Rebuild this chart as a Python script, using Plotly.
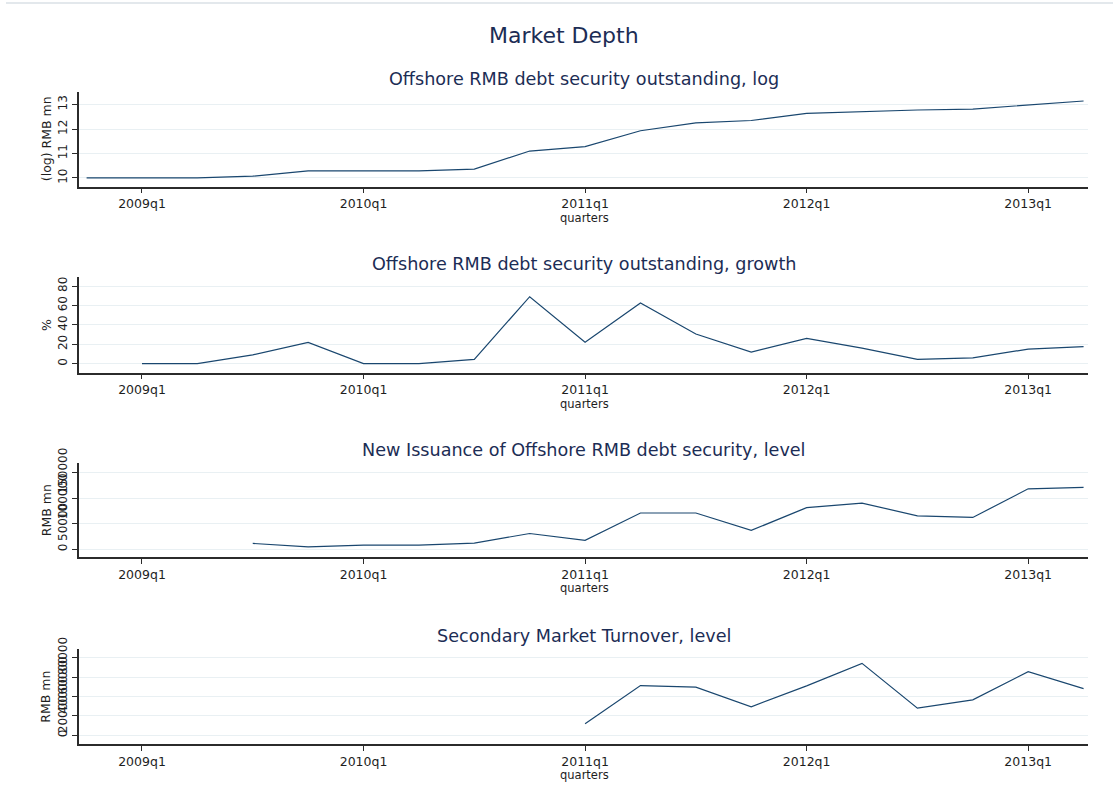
import plotly.graph_objects as go

quarters = ["2008q4", "2009q1", "2009q2", "2009q3", "2009q4", "2010q1", "2010q2",
            "2010q3", "2010q4", "2011q1", "2011q2", "2011q3", "2011q4", "2012q1",
            "2012q2", "2012q3", "2012q4", "2013q1", "2013q2"]

log_outstanding = [10.0, 10.0, 10.0, 10.07, 10.29, 10.29, 10.29, 10.36, 11.1, 11.28,
                   11.93, 12.25, 12.35, 12.64, 12.72, 12.78, 12.82, 13.0, 13.15]

growth_outstanding = [None, 0, 0, 9, 22, 0, 0, 4.5, 69, 22, 62.5, 30.5, 12, 26,
                      16, 4.5, 6, 15, 17.5]

new_issuance = [None, None, None, 11300, 4700, 8000, 8000, 12000, 30700, 17300,
                70700, 70700, 36700, 81300, 90000, 65300, 62000, 118000, 120700]

turnover = [None, None, None, None, None, None, None, None, None, 12000,
            51300, 49600, 29400, 51000, 74200, 28000, 36600, 65600, 48200]

x_tickvals = ["2009q1", "2010q1", "2011q1", "2012q1", "2013q1"]

main_title = "Market Depth"
panel_titles = ["Offshore RMB debt security outstanding, log",
                "Offshore RMB debt security outstanding, growth",
                "New Issuance of Offshore RMB debt security, level",
                "Secondary Market Turnover, level"]
y_titles = ["(log) RMB mn", "%", "RMB mn", "RMB mn"]
y_tickvals = [[10, 11, 12, 13], [0, 20, 40, 60, 80],
              [0, 50000, 100000, 150000], [0, 20000, 40000, 60000, 80000]]
y_ranges = [[9.64, 13.53], [-9.3, 89], [-15800, 167800], [-9000, 88700]]
series = [log_outstanding, growth_outstanding, new_issuance, turnover]

W, H = 1113, 809
# pixel geometry of each panel (top, bottom)
panel_px = [(91.7, 186.7), (277.3, 372.7), (463.3, 557.3), (649.3, 744.0)]
x_left, x_right = 79, 1088

line_color = "#1a476f"
text_color = "#1c2d55"
axis_color = "#2b2b2b"
grid_color = "#e9f0f3"
font_family = "DejaVu Sans, Liberation Sans, sans-serif"

fig = go.Figure()
annotations = []
for i in range(4):
    ax = "" if i == 0 else str(i + 1)
    fig.add_trace(go.Scatter(
        x=quarters, y=series[i], mode="lines",
        line=dict(color=line_color, width=1.2),
        xaxis="x" + ax, yaxis="y" + ax, showlegend=False, connectgaps=False))
    top, bot = panel_px[i]
    fig.layout["xaxis" + ax] = dict(
        type="category", categoryorder="array", categoryarray=quarters,
        domain=[x_left / W, x_right / W], anchor="y" + ax, automargin=False,
        range=[-0.137, 18.08], tickmode="array", tickvals=x_tickvals,
        ticktext=x_tickvals, showline=True, linecolor=axis_color, linewidth=1.5,
        ticks="outside", ticklen=5, tickcolor=axis_color, showgrid=False,
        zeroline=False, tickfont=dict(size=12.5, color="#1e1e1e", family=font_family))
    fig.layout["yaxis" + ax] = dict(
        domain=[1 - bot / H, 1 - top / H], anchor="x" + ax, automargin=False,
        range=y_ranges[i], tickmode="array", tickvals=y_tickvals[i],
        ticktext=[str(v) for v in y_tickvals[i]], tickangle=-90,
        showline=True, linecolor=axis_color, linewidth=1.5,
        ticks="outside", ticklen=5, tickcolor=axis_color,
        showgrid=True, gridcolor=grid_color, gridwidth=1.2, zeroline=False,
        tickfont=dict(size=12, color="#1e1e1e", family=font_family))
    annotations.append(dict(
        text=panel_titles[i], x=(x_left + x_right) / 2 / W, y=1 - (top - 13) / H,
        xref="paper", yref="paper", showarrow=False, xanchor="center", yanchor="middle",
        font=dict(size=17.6, color=text_color, family=font_family)))
    annotations.append(dict(
        text="quarters", x=585 / W, y=1 - (bot + 31) / H,
        xref="paper", yref="paper", showarrow=False, xanchor="center", yanchor="middle",
        font=dict(size=11.5, color="#1e1e1e", family=font_family)))
    annotations.append(dict(
        text=y_titles[i], x=46 / W, y=1 - (top + bot) / 2 / H, textangle=-90,
        xref="paper", yref="paper", showarrow=False, xanchor="center", yanchor="middle",
        font=dict(size=12.5, color="#1e1e1e", family=font_family)))

annotations.append(dict(
    text=main_title, x=564 / W, y=1 - 36 / H, xref="paper", yref="paper",
    showarrow=False, xanchor="center", yanchor="middle",
    font=dict(size=22, color=text_color, family=font_family)))

fig.update_layout(
    width=W, height=H, margin=dict(l=0, r=0, t=0, b=0, pad=0, autoexpand=False),
    paper_bgcolor="white", plot_bgcolor="white",
    annotations=annotations,
    shapes=[dict(type="line", xref="paper", yref="paper", x0=6 / W, x1=1,
                 y0=1 - 3 / H, y1=1 - 3 / H, line=dict(color="#e3e8ec", width=2))],
)

fig.write_html(
    "out.html",
    config={"displayModeBar": False},
    post_script="document.body.style.margin='0';document.body.style.padding='0';"
                "document.documentElement.style.overflow='hidden';"
                "var gd=document.getElementById('{plot_id}');"
                "gd.style.position='absolute';gd.style.top='0px';gd.style.left='0px';",
)
